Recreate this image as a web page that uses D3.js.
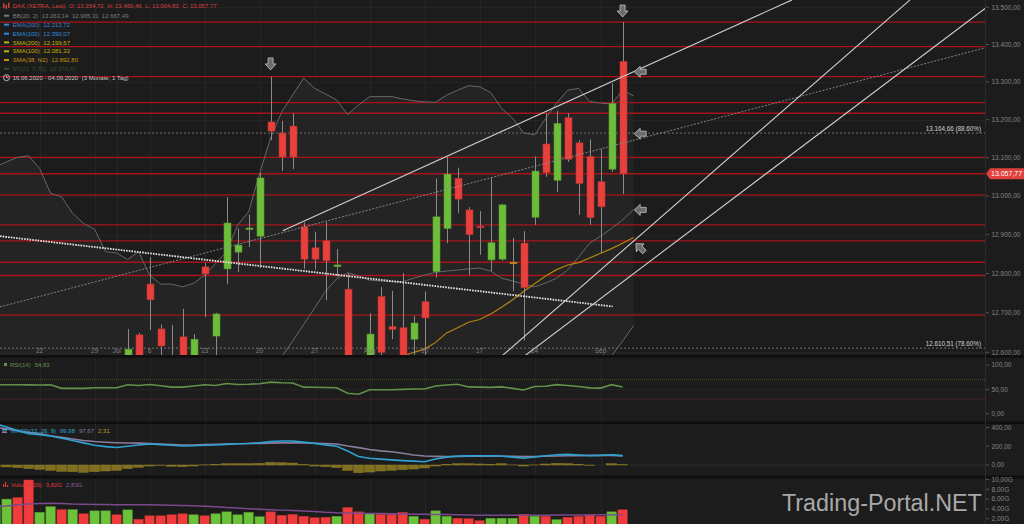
<!DOCTYPE html>
<html><head><meta charset="utf-8">
<script src="https://cdn.jsdelivr.net/npm/d3@7"></script>
<style>body{margin:0;background:#1c1c1c;}svg{display:block;font-family:"Liberation Sans",Arial,sans-serif;}</style>
</head><body><svg id="c" width="1024" height="524"></svg>
<script>
// ---------------- DATA ----------------
const dates = ["2020-06-16","2020-06-17","2020-06-18","2020-06-19","2020-06-22","2020-06-23","2020-06-24","2020-06-25","2020-06-26","2020-06-29","2020-06-30","2020-07-01","2020-07-02","2020-07-03","2020-07-06","2020-07-07","2020-07-08","2020-07-09","2020-07-10","2020-07-13","2020-07-14","2020-07-15","2020-07-16","2020-07-17","2020-07-20","2020-07-21","2020-07-22","2020-07-23","2020-07-24","2020-07-27","2020-07-28","2020-07-29","2020-07-30","2020-07-31","2020-08-03","2020-08-04","2020-08-05","2020-08-06","2020-08-07","2020-08-10","2020-08-11","2020-08-12","2020-08-13","2020-08-14","2020-08-17","2020-08-18","2020-08-19","2020-08-20","2020-08-21","2020-08-24","2020-08-25","2020-08-26","2020-08-27","2020-08-28","2020-08-31","2020-09-01","2020-09-02","2020-09-03"];
const open  = [12200,12330,12370,12420,12200,12300,12470,12040,12200,12040,12250,12320,12350,12644,12773,12659,12590,12639,12480,12817,12641,12812,12855,12915,12896,13194,13165,13183,12920,12866,12884,12818,12760,12380,12400,12741,12665,12662,12633,12728,12805,12916,13046,12964,12922,12835,12837,12829,12878,12945,13136,13041,13205,13139,13103,13037,13070,13354.72];
const high  = [12410,12420,12400,12540,12290,12580,12500,12210,12270,12250,12400,12440,12659,12649,12842,12670,12669,12710,12646,12827,12700,12997,12916,12952,13061,13314,13197,13217,12932,12907,12933,12863,12801,12450,12699,12766,12756,12801,12692,12754,13046,13101,13074,12971,12961,13049,12980,12892,12909,13103,13217,13223,13217,13146,13148,13122,13296,13460.46];
const low   = [12150,12280,12210,12300,12110,12290,12060,11970,12060,12030,12200,12240,12340,12490,12656,12580,12460,12470,12430,12689,12560,12773,12804,12868,12814,13146,13065,13070,12812,12810,12732,12792,12300,12200,12380,12550,12633,12550,12500,12580,12790,12878,12955,12796,12848,12806,12833,12755,12630,12925,13050,13011,13089,12951,12925,12852,13063,13004.83];
const close = [12315,12382,12281,12331,12262,12523,12093,12177,12089,12232,12311,12260,12608,12528,12733,12616,12494,12489,12633,12799,12697,12930,12873,12917,13047,13170,13102,13102,12837,12837,12833,12822,12379,12313,12646,12600,12658,12591,12674,12687,12946,13057,12992,12900,12920,12879,12977,12829,12764,13065,13061,13190,13096,13033,12944,12972,13243,13057.77];
const volume = [4.8,6.0,6.3,9.9,3.3,4.45,3.85,3.85,3.0,3.6,3.6,2.8,3.8,1.9,2.6,2.6,2.8,3.0,2.8,2.6,3.0,3.4,2.8,3.3,2.4,3.4,2.7,2.9,2.5,2.2,2.3,2.5,4.3,3.4,3.0,2.9,2.9,3.3,2.5,1.9,3.6,2.5,2.1,2.0,1.6,2.1,2.1,2.1,2.9,2.5,2.5,1.8,2.3,2.5,2.8,2.5,3.4,3.82];
const volumeSma = [4.5,4.6,4.85,5.0,5.1,5.14,5.1,5.0,4.95,4.9,4.88,4.86,4.86,4.85,4.85,4.8,4.75,4.7,4.65,4.55,4.42,4.3,4.18,4.05,3.95,3.84,3.75,3.65,3.57,3.45,3.3,3.2,3.15,3.1,3.08,3.05,3.0,2.97,2.93,2.9,2.87,2.84,2.8,2.76,2.72,2.7,2.69,2.69,2.7,2.71,2.72,2.73,2.74,2.75,2.77,2.79,2.81,2.83];
const rsi = [59.5,59.5,59.3,59.2,59,59.5,52,52,52,53.2,53.4,53.4,59.5,58,60,57.5,54.5,54.5,57,59.5,58,62,60,60.5,61.5,64.8,63.5,63,54.5,54.2,53.8,53.4,42,40,49.3,49.3,49.3,50,50.7,50.7,57,59,60.6,55,54.5,54,55,52,48.6,55.8,56.5,59.6,58,56,53,52.5,59.6,54.83];
const macd = [440,405,367,335,322,310,285,262,236,210,196,186,200,213,224,217,210,203,206,210,214,220,226,229,237,251,256,256,244,231,215,200,150,90,72,63,55,47,41,35,64,84,96,97,99,98,96,84,72,86,99,109,113,106,99,103,110,99.98];
const macdSignal = [400,385,365,348,336,312,295,278,262,250,243,238,235,233,229,224,219,214,214,218,221,224,227,230,231,233,236,238,236,232,228,224,203,185,166,151,142,125,107,96,92,89,91,93,95,96,94,92,89,91,93,96,98,100,103,103,103,97.67];
const macdHist = [-14,-21,-28,-39,-46,-57,-68,-71,-78,-71,-64,-57,-39,-25,-11,-4,-14,-18,-11,2,7,14,14,14,18,28,25,21,4,-11,-18,-28,-57,-82,-75,-64,-57,-50,-43,-32,-11,7,14,14,11,7,14,1,-11,1,11,18,14,7,-4,0,14,2.31];
// overlays (one extra slot, 04.09.2020)
const bbUpper = [13076,13089.5,13101,13105,13072,13007,12998,12955,12929,12914,12856,12853,12836,12856,12796,12773,12773,12766,12775,12796,12826,12856,12925,12959,13059,13152,13220,13265,13310,13283,13268,13252,13214,13239,13261,13261,13261,13255,13250,13247,13246,13265,13278,13290,13287,13272,13230,13204,13165,13160,13203,13244,13278,13283,13248,13244,13241,13278,13263.14];
const bbMid = [11950,11980,12010,12040,12060,12090,12110,12130,12150,12170,12190,12210,12240,12260,12290,12310,12330,12350,12370,12390,12410,12430,12450,12475,12505,12545,12588,12628,12670,12712,12755,12786,12802,12794,12783,12781,12779,12779,12788,12796,12803,12806.5,12809,12812,12814,12806.5,12788,12781,12773,12766,12776,12788,12809,12842,12878,12896,12916,12938,12965.31];
const bbLower = [10824,10871,10919,10975,11048,11173,11222,11305,11371,11426,11524,11567,11644,11664,11784,11847,11887,11934,11965,11984,11994,12004,11975,11991,11951,11930,11960,11990,12030,12140,12240,12320,12390,12350,12305,12300,12297,12303,12326,12345,12360,12348,12340,12334,12341,12341,12346,12358,12381,12372,12349,12332,12340,12401,12508,12548,12591,12628,12667.49];
const sma38 = [null,null,null,null,null,null,null,null,null,null,null,null,null,null,null,null,null,null,null,null,null,null,null,null,null,null,null,null,null,null,null,null,null,null,null,null,12570,12590,12600,12608,12625,12649,12662,12676,12683,12697,12714,12733,12754,12774,12794,12810,12822,12828,12840,12852,12864,12878,12892.8];
// horizontal levels, fib lines
const levels = [13460,13394,13314,13245,13217,13101,13058,13003,12925,12884,12829,12795,12694];
const fibValues = [13164.66,12610.51];
const fibPct = ["88.60%","78.60%"];
// trend lines [slot index, price]
const trendDown = [[0.4,12896],[56.1,12716]];
const trendLong = [[0.4,12715],[89.95,13391]];
const channelUp = [[26.1,12910],[72.4,13520]];
const fanA = [[46.0,12590],[83.13,13520]];
const fanB = [[48.0,12589],[89.95,13497]];
// annotation arrows [slot index, price]
const arrowsDown = [[25,13348],[57,13490]];
const arrowsLeft = [[58.6,13327],[58.6,13163],[58.6,12964]];
const arrowsDiag = [[58.6,12866]];
// axes
const xTickIdx = [4,9,11,14,19,24,29,34,39,44,49,55];
const xTickLabels = ["22","29","Jul","6","13","20","27","Aug","10","17","24","Sep"];
const priceTicks = [12600,12700,12800,12900,13000,13100,13200,13300,13400,13500];
const rsiTicks = [0,50,100];
const macdTicks = [0,200,400];
const volTicks = [2,4,6,8,10];
const maNames = ["EMA(200)","EMA(100)","SMA(200)","SMA(100)"];
const maValues = [12213.72,12390.07,12199.67,12081.32];
const stValue = 12379.87;

// ---------------- SETUP ----------------
const svg = d3.select("#c");
const loc = d3.formatLocale({decimal:",",thousands:".",grouping:[3],currency:["","€"]});
const f2 = loc.format(",.2f");
const PR = 985;
const x = d3.scaleLinear().domain([0,90]).range([-4.4,985.6]);
const y = d3.scaleLog().domain([12600,13500]).range([352.3,7.3]);
const yR = d3.scaleLinear().domain([0,100]).range([413.7,365]);
const yM = d3.scaleLinear().domain([0,400]).range([465,427.5]);
const yV = d3.scaleLinear().domain([0,10]).range([528.5,479.5]);
const idx = d3.range(dates.length);
const idxO = d3.range(bbUpper.length);
const GREEN="#6dbd3b", RED="#e8403c", DOJI="#e0a020";
const col = i => close[i]>open[i]?GREEN:(close[i]<open[i]?RED:DOJI);

svg.append("rect").attr("width",1024).attr("height",524).attr("fill","#1c1c1c");
const defs = svg.append("defs");
const clips = {main:[0,0,PR,355],rsi:[0,358,PR,63.5],macd:[0,424,PR,51.5],vol:[0,478.5,PR,46]};
Object.entries(clips).forEach(([k,r])=>{
  defs.append("clipPath").attr("id","cl_"+k).append("rect")
    .attr("x",r[0]).attr("y",r[1]).attr("width",r[2]).attr("height",r[3]);
});
// separators
[[355,2.6],[421.5,2.6],[475.5,3]].forEach(s=>svg.append("rect").attr("x",0).attr("y",s[0]).attr("width",1024).attr("height",s[1]).attr("fill","#0e0e0e"));
svg.append("line").attr("x1",PR+0.5).attr("x2",PR+0.5).attr("y1",0).attr("y2",524).attr("stroke","#2c2c2c");

// vertical grid
["main","rsi","macd","vol"].forEach(k=>{
  const r=clips[k];
  svg.append("g").attr("clip-path",`url(#cl_${k})`).selectAll("line").data(xTickIdx).join("line")
    .attr("x1",i=>Math.round(x(i))+0.5).attr("x2",i=>Math.round(x(i))+0.5)
    .attr("y1",r[1]).attr("y2",r[1]+r[3]).attr("stroke","#262626");
});

// ---------------- MAIN PANEL ----------------
const gm = svg.append("g").attr("clip-path","url(#cl_main)");
gm.selectAll("line.hg").data(priceTicks).join("line").attr("class","hg")
  .attr("x1",0).attr("x2",PR).attr("y1",d=>Math.round(y(d))+0.5).attr("y2",d=>Math.round(y(d))+0.5)
  .attr("stroke","#242424");
// BB fill
gm.append("path").datum(idxO)
  .attr("d",d3.area().x(i=>x(i)).y0(i=>y(bbLower[i])).y1(i=>y(bbUpper[i])))
  .attr("fill","#242424");
// red levels
gm.selectAll("line.lv").data(levels).join("line").attr("class","lv")
  .attr("x1",0).attr("x2",PR).attr("y1",d=>y(d)).attr("y2",d=>y(d))
  .attr("stroke","#a8121b").attr("stroke-width",1.3);
// fib lines
gm.selectAll("line.fib").data(fibValues).join("line").attr("class","fib")
  .attr("x1",0).attr("x2",PR).attr("y1",d=>y(d)).attr("y2",d=>y(d))
  .attr("stroke","#707070").attr("stroke-width",1).attr("stroke-dasharray","2,2");
// BB lines
const lineO = arr => d3.line().defined(i=>arr[i]!=null).x(i=>x(i)).y(i=>y(arr[i]));
[bbUpper,bbMid,bbLower].forEach(a=>gm.append("path").datum(idxO).attr("d",lineO(a))
  .attr("fill","none").attr("stroke","#686868").attr("stroke-width",1));
gm.append("path").datum(idxO).attr("d",lineO(sma38)).attr("fill","none").attr("stroke","#b8860b").attr("stroke-width",1.2);
// candles
gm.selectAll("line.wick").data(idx).join("line").attr("class","wick")
  .attr("x1",i=>Math.round(x(i))+0.5).attr("x2",i=>Math.round(x(i))+0.5)
  .attr("y1",i=>y(high[i])).attr("y2",i=>y(low[i])).attr("stroke","#8a8a8a").attr("stroke-width",1);
gm.selectAll("rect.body").data(idx).join("rect").attr("class","body")
  .attr("x",i=>Math.round(x(i))-3).attr("width",7)
  .attr("y",i=>y(Math.max(open[i],close[i])))
  .attr("height",i=>Math.max(1.5,y(Math.min(open[i],close[i]))-y(Math.max(open[i],close[i]))))
  .attr("fill",col).attr("stroke",i=>d3.color(col(i)).darker(0.6)).attr("stroke-width",0.6);
// trend lines
const tl = d3.line().x(d=>x(d[0])).y(d=>y(d[1]));
gm.append("path").attr("d",tl(trendLong)).attr("fill","none").attr("stroke","#8e8e8e").attr("stroke-width",0.9).attr("stroke-dasharray","2,1.5");
gm.append("path").attr("d",tl(trendDown)).attr("fill","none").attr("stroke","#e4e4e4").attr("stroke-width",1.8).attr("stroke-dasharray","1.6,1.1");
[channelUp,fanA,fanB].forEach(t=>gm.append("path").attr("d",tl(t)).attr("fill","none").attr("stroke","#cfcfcf").attr("stroke-width",1.1));
// arrows
const arrowPts = "-2.5,-6 2.5,-6 2.5,0 5.5,0 0,6 -5.5,0 -2.5,0";
const drawArrows=(data,rot)=>gm.selectAll(null).data(data).join("polygon").attr("points",arrowPts)
  .attr("transform",d=>`translate(${x(d[0])},${y(d[1])}) rotate(${rot})`)
  .attr("fill","#6c6c6c").attr("stroke","#c4c4c4").attr("stroke-width",0.8);
drawArrows(arrowsDown,0); drawArrows(arrowsLeft,90); drawArrows(arrowsDiag,135);
// fib labels
gm.selectAll("text.fibl").data(fibValues).join("text").attr("class","fibl")
  .attr("x",981).attr("y",d=>y(d)-2.2).attr("text-anchor","end").attr("font-size",6.3).attr("fill","#d0d0d0")
  .text((d,k)=>`${f2(d)} (${fibPct[k]})`);
// x tick labels
svg.selectAll("text.xt").data(xTickIdx).join("text").attr("class","xt")
  .attr("x",i=>x(i)).attr("y",352.5).attr("text-anchor","middle").attr("font-size",6.6).attr("fill","#7e7e7e")
  .text((d,k)=>xTickLabels[k]);

// right axis
const axisLabels=(ticks,sc,fmt)=>{
  svg.selectAll(null).data(ticks).join("line").attr("x1",PR+1).attr("x2",PR+4)
    .attr("y1",d=>sc(d)).attr("y2",d=>sc(d)).attr("stroke","#555");
  svg.selectAll(null).data(ticks).join("text").attr("x",991.5).attr("y",d=>sc(d)+2.3)
    .attr("font-size",6.5).attr("fill","#858585").text(fmt);
};
axisLabels(priceTicks,y,d=>f2(d));
axisLabels(rsiTicks,yR,d=>f2(d));
axisLabels(macdTicks,yM,d=>f2(d));
axisLabels(volTicks,yV,d=>f2(d)+"G");
// close label
const cy = y(close[close.length-1]);
svg.append("polygon").attr("points",`${PR+1},${cy} ${PR+5},${cy-5.5} 1024,${cy-5.5} 1024,${cy+5.5} ${PR+5},${cy+5.5}`).attr("fill","#e2403c");
svg.append("text").attr("x",991).attr("y",cy+2.4).attr("font-size",7).attr("fill","#fff").text(f2(close[close.length-1]));

// ---------------- RSI ----------------
const gr = svg.append("g").attr("clip-path","url(#cl_rsi)");
gr.append("line").attr("x1",0).attr("x2",PR).attr("y1",yR(70)).attr("y2",yR(70)).attr("stroke","#3c5a2c").attr("stroke-dasharray","1,1");
gr.append("line").attr("x1",0).attr("x2",PR).attr("y1",yR(30)).attr("y2",yR(30)).attr("stroke","#6a2626").attr("stroke-dasharray","1,1");
gr.append("line").attr("x1",0).attr("x2",PR).attr("y1",yR(50)).attr("y2",yR(50)).attr("stroke","#262626");
gr.append("path").datum(idx).attr("d",d3.line().x(i=>x(i)).y(i=>yR(rsi[i]))).attr("fill","none").attr("stroke","#64904a").attr("stroke-width",1.6);
svg.append("rect").attr("x",4).attr("y",363).attr("width",3).attr("height",3).attr("fill","#64904a");
svg.append("text").attr("x",10).attr("y",366.5).attr("font-size",6).attr("fill","#64904a")
  .call(t=>{t.append("tspan").text("RSI(14)");t.append("tspan").attr("dx",4).text(f2(rsi[rsi.length-1]));});

// ---------------- MACD ----------------
const gq = svg.append("g").attr("clip-path","url(#cl_macd)");
gq.append("line").attr("x1",0).attr("x2",PR).attr("y1",yM(0)).attr("y2",yM(0)).attr("stroke","#2a2a2a");
gq.selectAll("rect").data(idx).join("rect")
  .attr("x",i=>x(i)-5).attr("width",10)
  .attr("y",i=>Math.min(yM(0),yM(macdHist[i]))).attr("height",i=>Math.abs(yM(macdHist[i])-yM(0)))
  .attr("fill","#806f20").attr("stroke","#9a8628").attr("stroke-width",0.4);
gq.append("path").datum(idx).attr("d",d3.line().x(i=>x(i)).y(i=>yM(macdSignal[i]))).attr("fill","none").attr("stroke","#8a7c9c").attr("stroke-width",1.6);
gq.append("path").datum(idx).attr("d",d3.line().x(i=>x(i)).y(i=>yM(macd[i]))).attr("fill","none").attr("stroke","#2ea2d2").attr("stroke-width",1.6);
svg.append("rect").attr("x",2).attr("y",429).attr("width",5).attr("height",1.6).attr("fill","#2ea2d2");
svg.append("rect").attr("x",2).attr("y",431.4).attr("width",5).attr("height",1.6).attr("fill","#8a7c9c");
svg.append("text").attr("x",11).attr("y",432.7).attr("font-size",6)
  .call(t=>{
    t.append("tspan").attr("fill","#2ea2d2").text("MACD(12, 26, 9)");
    t.append("tspan").attr("dx",4).attr("fill","#2ea2d2").text(f2(macd[macd.length-1]));
    t.append("tspan").attr("dx",4).attr("fill","#8a7c9c").text(f2(macdSignal[macdSignal.length-1]));
    t.append("tspan").attr("dx",4).attr("fill","#b09a30").text(f2(macdHist[macdHist.length-1]));
  });

// ---------------- VOLUME ----------------
const gv = svg.append("g").attr("clip-path","url(#cl_vol)");
const vcol = i => close[i]>=open[i]?"#6cc23a":"#f03c3c";
gv.selectAll("rect").data(idx).join("rect")
  .attr("x",i=>x(i)-4.7).attr("width",9.4)
  .attr("y",i=>yV(volume[i])).attr("height",i=>yV(0)-yV(volume[i]))
  .attr("fill",vcol).attr("stroke",i=>d3.color(vcol(i)).darker(0.7)).attr("stroke-width",0.5);
gv.append("path").datum(idx).attr("d",d3.line().x(i=>x(i)).y(i=>yV(volumeSma[i]))).attr("fill","none").attr("stroke","#7a4a8c").attr("stroke-width",1.5);
svg.append("g").attr("fill","#e03a3a").call(g=>{
  g.append("rect").attr("x",3).attr("y",484).attr("width",1.2).attr("height",3);
  g.append("rect").attr("x",5).attr("y",482).attr("width",1.2).attr("height",5);
  g.append("rect").attr("x",7).attr("y",485).attr("width",1.2).attr("height",2);
});
svg.append("text").attr("x",11).attr("y",487).attr("font-size",6)
  .call(t=>{
    t.append("tspan").attr("fill","#e03a3a").text("Volume(20)");
    t.append("tspan").attr("dx",4).attr("fill","#e03a3a").text(f2(volume[volume.length-1])+"G");
    t.append("tspan").attr("dx",4).attr("fill","#8a5a9a").text(f2(volumeSma[volumeSma.length-1])+"G");
  });
// watermark
svg.append("text").attr("x",782).attr("y",510.5).attr("font-size",23.3).attr("fill","#a9a9a9").text("Trading-Portal.NET");

// ---------------- LEGEND ----------------
const last = dates.length-1;
const rows = [
  {c:"#da403c", icon:"candle", parts:["DAX (XETRA, Last)","O: "+f2(open[last]),"H: "+f2(high[last]),"L: "+f2(low[last]),"C: "+f2(close[last])]},
  {c:"#7c7c7c", icon:"dash", parts:["BB(20, 2)",f2(bbUpper[bbUpper.length-1]),f2(bbMid[bbMid.length-1]),f2(bbLower[bbLower.length-1])]},
  {c:"#2f84cc", icon:"dash", parts:[maNames[0],f2(maValues[0])]},
  {c:"#318cd8", icon:"dash", parts:[maNames[1],f2(maValues[1])]},
  {c:"#c9b400", icon:"dash", parts:[maNames[2],f2(maValues[2])]},
  {c:"#c7ad00", icon:"dash", parts:[maNames[3],f2(maValues[3])]},
  {c:"#c58f12", icon:"dash", parts:["SMA(38, hl2)",f2(sma38[sma38.length-1])]},
  {c:"#2f4a2f", icon:"dash", parts:["ST(21, 3.75)",f2(stValue)]},
  {c:"#c6c6c6", icon:"clock", parts:["16.06.2020 - 04.09.2020","(3 Monate, 1 Tag)"]}
];
const rowY = [6.3,15.7,24.7,33.7,42.4,51.3,60,68.8,77.7];
rows.forEach((r,k)=>{
  const cyy=rowY[k];
  if(r.icon==="candle"){
    svg.append("rect").attr("x",3).attr("y",cyy-3).attr("width",1.5).attr("height",5).attr("fill",r.c);
    svg.append("rect").attr("x",5.5).attr("y",cyy-1.5).attr("width",1.5).attr("height",4).attr("fill",r.c);
    svg.append("rect").attr("x",8).attr("y",cyy-3.5).attr("width",1.5).attr("height",5).attr("fill",r.c);
  } else if(r.icon==="dash"){
    svg.append("rect").attr("x",4).attr("y",cyy-1).attr("width",5).attr("height",2).attr("fill",r.c);
  } else {
    svg.append("circle").attr("cx",6.5).attr("cy",cyy).attr("r",3).attr("fill","none").attr("stroke",r.c).attr("stroke-width",0.9);
    svg.append("path").attr("d",`M6.5,${cyy-2}V${cyy}H8.3`).attr("fill","none").attr("stroke",r.c).attr("stroke-width",0.8);
  }
  const t=svg.append("text").attr("x",12.7).attr("y",cyy+2.1).attr("font-size",6).attr("fill",r.c);
  r.parts.forEach((p,j)=>t.append("tspan").attr("dx",j?3.6:0).text(p));
});
</script>
</body></html>
